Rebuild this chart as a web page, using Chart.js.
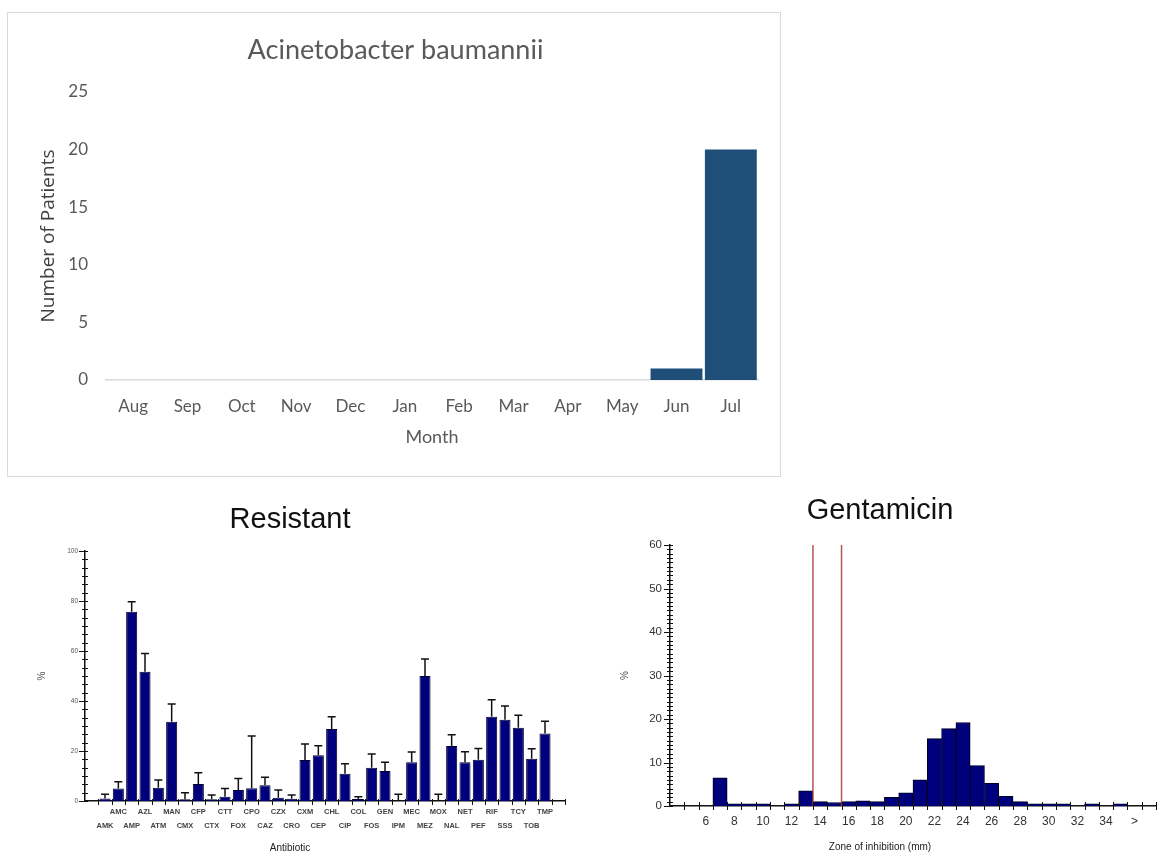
<!DOCTYPE html>
<html>
<head>
<meta charset="utf-8">
<title>Acinetobacter baumannii</title>
<script src="https://cdn.jsdelivr.net/npm/chart.js@4.4.1/dist/chart.umd.min.js"></script>
<style>
  html, body { margin: 0; padding: 0; background: #fff; }
  body { width: 1158px; height: 855px; position: relative; overflow: hidden; }
  #monthlyBox { position: absolute; left: 7px; top: 12px; width: 772px; height: 463px; border: 1px solid #d9d9d9; }
  .panel { position: absolute; }
  canvas { display: block; }
</style>
</head>
<body>
<div id="monthlyBox"><canvas id="monthly" width="772" height="463"></canvas></div>
<div class="panel" style="left:0; top:490px;"><canvas id="resistant" width="590" height="365"></canvas></div>
<div class="panel" style="left:590px; top:490px;"><canvas id="zone" width="568" height="365"></canvas></div>

<script>
// ---- Monthly patient counts ----
const months = ['Aug', 'Sep', 'Oct', 'Nov', 'Dec', 'Jan', 'Feb', 'Mar', 'Apr', 'May', 'Jun', 'Jul'];
const patients = [0, 0, 0, 0, 0, 0, 0, 0, 0, 0, 1, 20];
const patientTicks = [0, 5, 10, 15, 20, 25];

// ---- Resistance by antibiotic (%), with upper error limits ----
const antibiotics = ['AMK', 'AMC', 'AMP', 'AZL', 'ATM', 'MAN', 'CMX', 'CFP', 'CTX', 'CTT', 'FOX', 'CPO',
  'CAZ', 'CZX', 'CRO', 'CXM', 'CEP', 'CHL', 'CIP', 'COL', 'FOS', 'GEN', 'IPM', 'MEC', 'MEZ', 'MOX',
  'NAL', 'NET', 'PEF', 'RIF', 'SSS', 'TCY', 'TOB', 'TMP'];
const resistantPct = [1, 5, 75.7, 51.7, 5.3, 31.7, 0.7, 6.8, 0.7, 1.7, 4.4, 5.1,
  6.3, 1.3, 0.9, 16.4, 18.3, 28.8, 10.9, 0.8, 13.3, 12, 0, 15.5, 50, 0,
  22, 15.5, 16.5, 33.7, 32.5, 29.3, 16.9, 27];
const resistantUpper = [2.7, 7.7, 79.7, 59, 8.4, 38.8, 3.3, 11.3, 2.4, 5, 9, 26,
  9.5, 4.4, 2.4, 22.8, 22.1, 33.7, 14.9, 1.7, 18.8, 15.5, 2.7, 19.6, 56.8, 2.7,
  26.5, 19.7, 21, 40.5, 38, 34.3, 20.9, 31.9];
const resistantTicks = [0, 20, 40, 60, 80, 100];

// ---- Gentamicin zone diameter distribution ----
const zoneMm = [7, 8, 9, 10, 11, 12, 13, 14, 15, 16, 17, 18, 19, 20, 21, 22, 23, 24, 25, 26,
  27, 28, 29, 30, 31, 32, 33, 34, 35, 36];
const zonePct = [6.5, 0.5, 0.5, 0.5, null, 0.5, 3.5, 1, 0.8, 1, 1.2, 1, 2, 3, 6, 15.5, 17.8, 19.2, 9.3, 5.2,
  2.2, 1, 0.5, 0.5, 0.5, null, 0.5, null, 0.5, null];
const zoneTickValues = [6, 8, 10, 12, 14, 16, 18, 20, 22, 24, 26, 28, 30, 32, 34, 36];
const zoneTickLabels = ['6', '8', '10', '12', '14', '16', '18', '20', '22', '24', '26', '28', '30', '32', '34', '>'];
const zoneBreakpoints = [13.5, 15.5];
const zonePctTicks = [0, 10, 20, 30, 40, 50, 60];

// Crossing tick marks along both axes, drawn from the scales
const crossTicks = {
  id: 'crossTicks',
  afterDraw(chart, args, o) {
    const { ctx, chartArea: a, scales: { x, y } } = chart;
    ctx.save();
    ctx.strokeStyle = o.color;
    ctx.lineWidth = 1;
    ctx.beginPath();
    const steps = Math.round((o.yMax - o.yMin) / o.yStep);
    for (let k = 0; k <= steps; k++) {
      const py = Math.round(y.getPixelForValue(o.yMin + k * o.yStep)) + 0.5;
      const major = k % o.yMajorEvery === 0;
      ctx.moveTo(a.left - (major ? o.majorLen : o.minorLen), py);
      ctx.lineTo(a.left + o.minorLen, py);
    }
    for (const v of o.xEdges) {
      const px = Math.round(x.getPixelForValue(v)) + 0.5;
      ctx.moveTo(px, a.bottom - o.xUp);
      ctx.lineTo(px, a.bottom + o.xDown);
    }
    ctx.stroke();
    ctx.restore();
  }
};

// Upper error bars with caps
const errorBars = {
  id: 'errorBars',
  afterDatasetsDraw(chart, args, o) {
    if (!o.upper) return;
    const { ctx, scales: { x, y } } = chart;
    const data = chart.data.datasets[0].data;
    ctx.save();
    ctx.strokeStyle = o.color;
    ctx.lineWidth = 1.5;
    ctx.beginPath();
    data.forEach((d, i) => {
      const px = x.getPixelForValue(d.x);
      const y0 = y.getPixelForValue(d.y);
      const y1 = y.getPixelForValue(o.upper[i]);
      ctx.moveTo(px, y0);
      ctx.lineTo(px, y1);
      ctx.moveTo(px - o.cap, y1);
      ctx.lineTo(px + o.cap, y1);
    });
    ctx.stroke();
    ctx.restore();
  }
};

// Vertical breakpoint lines
const breakLines = {
  id: 'breakLines',
  afterDatasetsDraw(chart, args, o) {
    if (!o.values) return;
    const { ctx, scales: { x, y } } = chart;
    ctx.save();
    ctx.strokeStyle = o.color;
    ctx.lineWidth = 1.5;
    ctx.beginPath();
    o.values.forEach(v => {
      const px = x.getPixelForValue(v);
      ctx.moveTo(px, y.getPixelForValue(o.from));
      ctx.lineTo(px, y.getPixelForValue(o.to));
    });
    ctx.stroke();
    ctx.restore();
  }
};

// ---------- Chart 1: patients per month ----------
new Chart(document.getElementById('monthly'), {
  type: 'bar',
  data: {
    labels: months,
    datasets: [{ data: patients, backgroundColor: '#1f4e79', barPercentage: 0.955, categoryPercentage: 1 }]
  },
  options: {
    responsive: false,
    animation: false,
    layout: { padding: { left: 25, right: 22, top: 0, bottom: 26 } },
    plugins: {
      legend: { display: false },
      tooltip: { enabled: false },
      title: {
        display: true, text: 'Acinetobacter baumannii', color: '#595959',
        font: { family: 'Lato', size: 27, weight: 'normal' },
        padding: { top: 20.8, bottom: 25.8 }
      }
    },
    scales: {
      x: {
        grid: { display: false, drawTicks: false },
        border: { display: true, color: '#d9d9d9', width: 1.5 },
        ticks: { color: '#595959', font: { family: 'Lato', size: 17 }, padding: 16.8 },
        title: { display: true, text: 'Month', color: '#595959', font: { family: 'Lato', size: 18 }, padding: { top: 0, bottom: 2.2 } },
        afterFit(s) { s.height = 70; }
      },
      y: {
        min: 0, max: 25,
        afterBuildTicks(s) { s.ticks = patientTicks.map(v => ({ value: v })); },
        grid: { display: false, drawTicks: false },
        border: { display: false },
        ticks: { color: '#595959', font: { family: 'Lato', size: 17 }, padding: 18 },
        title: { display: true, text: 'Number of Patients', color: '#404040', font: { family: 'Open Sans', size: 19 }, padding: { top: 4, bottom: 0 } },
        afterFit(s) { s.width = 73; }
      }
    }
  }
});

// ---------- Chart 2: resistance by antibiotic ----------
const resistantPoints = antibiotics.map((name, i) => ({ x: i + 1, y: resistantPct[i] }));
const resistantEdges = antibiotics.map((n, i) => i + 0.5).concat([antibiotics.length + 0.5, antibiotics.length + 1.5]);

new Chart(document.getElementById('resistant'), {
  type: 'bar',
  data: {
    datasets: [{
      data: resistantPoints, backgroundColor: '#00007d', borderColor: '#000030', borderWidth: 1,
      barPercentage: 0.83, categoryPercentage: 1
    }]
  },
  plugins: [crossTicks, errorBars],
  options: {
    responsive: false,
    animation: false,
    layout: { padding: { left: 15, right: 25, top: 0, bottom: 0 } },
    plugins: {
      legend: { display: false },
      tooltip: { enabled: false },
      title: {
        display: true, text: 'Resistant', color: '#111',
        font: { family: 'Liberation Sans', size: 29, weight: 'normal' },
        padding: { top: 12.6, bottom: 13.6 }
      },
      subtitle: {
        display: true, position: 'bottom', text: 'Antibiotic', color: '#222',
        font: { family: 'Liberation Sans', size: 10 }, padding: { top: 0, bottom: 1 }
      },
      crossTicks: {
        color: '#111', yMin: 0, yMax: 100, yStep: 20 / 6, yMajorEvery: 6,
        minorLen: 3, majorLen: 6, xEdges: resistantEdges, xUp: 2, xDown: 4
      },
      errorBars: { upper: resistantUpper, color: '#111', cap: 4 }
    },
    scales: {
      x: {
        type: 'linear', min: -0.5, max: antibiotics.length + 1.5, offset: false,
        afterBuildTicks(s) { s.ticks = antibiotics.map((n, i) => ({ value: i + 1 })); },
        grid: { display: false, drawTicks: false, offset: false },
        border: { display: true, color: '#111', width: 1.5 },
        ticks: {
          autoSkip: false, maxRotation: 0, minRotation: 0, padding: 4, color: '#444',
          font: { family: 'Liberation Sans', size: 7.5, weight: 'bold', lineHeight: '14px' },
          callback(v) {
            const name = antibiotics[Math.round(v) - 1];
            return (Math.round(v) % 2 === 1) ? ['', name] : name;
          }
        },
        afterFit(s) { s.height = 41; }
      },
      y: {
        min: 0, max: 100,
        afterBuildTicks(s) { s.ticks = resistantTicks.map(v => ({ value: v })); },
        grid: { display: false, drawTicks: false },
        border: { display: true, color: '#111', width: 1.5 },
        ticks: { color: '#555', font: { family: 'Liberation Sans', size: 6.5 }, padding: 7 },
        title: { display: true, text: '%', color: '#555', font: { family: 'Liberation Sans', size: 10 }, padding: { top: 21, bottom: 0 } },
        afterFit(s) { s.width = 70; }
      }
    }
  }
});

// ---------- Chart 3: Gentamicin zone of inhibition ----------
const zonePoints = zoneMm.map((mm, i) => ({ x: mm, y: zonePct[i] }));
const zoneEdges = [];
for (let e = 4.5; e <= 37.5; e += 1) zoneEdges.push(e);

new Chart(document.getElementById('zone'), {
  type: 'bar',
  data: {
    datasets: [{
      data: zonePoints, backgroundColor: '#00007d', borderColor: '#000020', borderWidth: 1,
      barPercentage: 1, categoryPercentage: 1
    }]
  },
  plugins: [crossTicks, breakLines],
  options: {
    responsive: false,
    animation: false,
    layout: { padding: { left: 14, right: 2, top: 0, bottom: 0 } },
    plugins: {
      legend: { display: false },
      tooltip: { enabled: false },
      title: {
        display: true, text: 'Gentamicin', color: '#111',
        font: { family: 'Liberation Sans', size: 29, weight: 'normal' },
        padding: { top: 3.6, bottom: 16.6 }
      },
      subtitle: {
        display: true, position: 'bottom', text: 'Zone of inhibition (mm)', color: '#222',
        font: { family: 'Liberation Sans', size: 10 }, padding: { top: 0, bottom: 2 }
      },
      crossTicks: {
        color: '#111', yMin: 0, yMax: 60, yStep: 1, yMajorEvery: 10,
        minorLen: 3, majorLen: 6, xEdges: zoneEdges, xUp: 4, xDown: 4
      },
      breakLines: { values: zoneBreakpoints, from: 0, to: 60, color: 'rgba(170,55,55,0.85)' }
    },
    scales: {
      x: {
        type: 'linear', min: 3.5, max: 37.5, offset: false,
        afterBuildTicks(s) { s.ticks = zoneTickValues.map(v => ({ value: v })); },
        grid: { display: false, drawTicks: false, offset: false },
        border: { display: true, color: '#111', width: 1.5 },
        ticks: {
          autoSkip: false, maxRotation: 0, minRotation: 0, padding: 8.8, color: '#333',
          font: { family: 'Liberation Sans', size: 12 },
          callback(v) { return zoneTickLabels[zoneTickValues.indexOf(v)]; }
        },
        afterFit(s) { s.height = 35; }
      },
      y: {
        min: 0, max: 60,
        afterBuildTicks(s) { s.ticks = zonePctTicks.map(v => ({ value: v })); },
        grid: { display: false, drawTicks: false },
        border: { display: true, color: '#111', width: 1.5 },
        ticks: { color: '#333', font: { family: 'Liberation Sans', size: 11.5 }, padding: 8 },
        title: { display: true, text: '%', color: '#555', font: { family: 'Liberation Sans', size: 10 }, padding: { top: 15, bottom: 0 } },
        afterFit(s) { s.width = 66; }
      }
    }
  }
});
</script>
</body>
</html>
